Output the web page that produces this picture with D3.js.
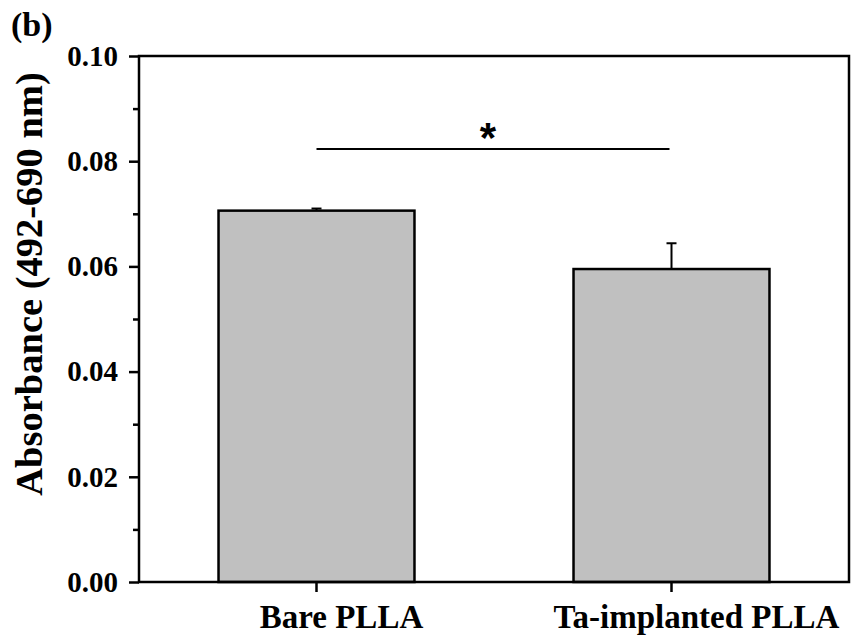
<!DOCTYPE html>
<html>
<head>
<meta charset="utf-8">
<script src="https://cdn.jsdelivr.net/npm/d3@7"></script>
<style>
  html, body { margin: 0; padding: 0; background: #fff; }
  svg { display: block; }
  text { font-family: "Liberation Serif", "Times New Roman", serif; font-weight: bold; fill: #000; }
</style>
</head>
<body>
<svg id="chart" width="854" height="640"></svg>
<script>
const categories = ["Bare PLLA", "Ta-implanted PLLA"];
const values = [0.0706, 0.0595];
const errors = [0.0004, 0.0049];
const yTicks = [0.00, 0.02, 0.04, 0.06, 0.08, 0.10];
const yMinorTicks = [0.01, 0.03, 0.05, 0.07, 0.09];
const sigPair = ["Bare PLLA", "Ta-implanted PLLA"];
const sigLevel = 0.0823;
const sigMark = "*";
const panelLabel = "(b)";
const yTitle = "Absorbance (492-690 nm)";

const svg = d3.select("#chart");
const m = {left: 139, right: 849, top: 56, bottom: 582};

const x = d3.scaleBand().domain(categories).range([m.left, m.right]).padding(0);
const y = d3.scaleLinear().domain([0, 0.10]).range([m.bottom, m.top]);
const cx = c => x(c) + x.bandwidth() / 2;
const barW = x.bandwidth() * 0.552;

// bars
svg.append("g").selectAll("rect").data(categories).join("rect")
  .attr("x", c => cx(c) - barW / 2)
  .attr("y", (c, i) => y(values[i]))
  .attr("width", barW)
  .attr("height", (c, i) => y(0) - y(values[i]))
  .attr("fill", "#c0c0c0")
  .attr("stroke", "#000")
  .attr("stroke-width", 2.5);

// error bars (upper only)
const eg = svg.append("g").attr("stroke", "#000").attr("stroke-width", 2);
categories.forEach((c, i) => {
  eg.append("line").attr("x1", cx(c)).attr("x2", cx(c))
    .attr("y1", y(values[i])).attr("y2", y(values[i] + errors[i]));
  eg.append("line").attr("x1", cx(c) - 5).attr("x2", cx(c) + 5)
    .attr("y1", y(values[i] + errors[i])).attr("y2", y(values[i] + errors[i]));
});

// y axis (major)
const yAxis = d3.axisLeft(y).tickValues(yTicks).tickFormat(d3.format(".2f")).tickSize(10).tickPadding(11);
const yg = svg.append("g").attr("transform", `translate(${m.left},0)`).call(yAxis);
yg.select(".domain").remove();
yg.selectAll(".tick line").attr("stroke", "#000").attr("stroke-width", 2.5);
yg.selectAll(".tick text").attr("font-size", 29).style("font-family", '"Liberation Serif", "Times New Roman", serif').style("font-weight", "bold");

// y minor ticks
const ym = d3.axisLeft(y).tickValues(yMinorTicks).tickFormat("").tickSize(6);
const ymg = svg.append("g").attr("transform", `translate(${m.left},0)`).call(ym);
ymg.select(".domain").remove();
ymg.selectAll(".tick line").attr("stroke", "#000").attr("stroke-width", 2.5);

// x axis ticks
const xAxis = d3.axisBottom(x).tickSize(10).tickFormat("");
const xg = svg.append("g").attr("transform", `translate(0,${m.bottom})`).call(xAxis);
xg.select(".domain").remove();
xg.selectAll(".tick line").attr("stroke", "#000").attr("stroke-width", 2.5);

// x labels
svg.append("g").selectAll("text").data(categories).join("text")
  .attr("x", c => cx(c) + 25)
  .attr("y", 628)
  .attr("text-anchor", "middle")
  .attr("font-size", 33)
  .text(c => c);

// frame
svg.append("rect")
  .attr("x", m.left).attr("y", m.top)
  .attr("width", m.right - m.left).attr("height", m.bottom - m.top)
  .attr("fill", "none").attr("stroke", "#000").attr("stroke-width", 2.5);

// significance line
svg.append("line")
  .attr("x1", cx(sigPair[0])).attr("x2", cx(sigPair[1]) - 2)
  .attr("y1", y(sigLevel)).attr("y2", y(sigLevel))
  .attr("stroke", "#000").attr("stroke-width", 2);
svg.append("text")
  .attr("x", 488).attr("y", 152)
  .attr("text-anchor", "middle")
  .attr("font-size", 42)
  .style("font-family", '"Liberation Sans", Arial, sans-serif')
  .text(sigMark);

// y title
svg.append("text")
  .attr("transform", `translate(42,284) rotate(-90)`)
  .attr("text-anchor", "middle")
  .attr("font-size", 38.5)
  .text(yTitle);

// panel label
svg.append("text")
  .attr("x", 11).attr("y", 36)
  .attr("font-size", 34)
  .text(panelLabel);
</script>
</body>
</html>
